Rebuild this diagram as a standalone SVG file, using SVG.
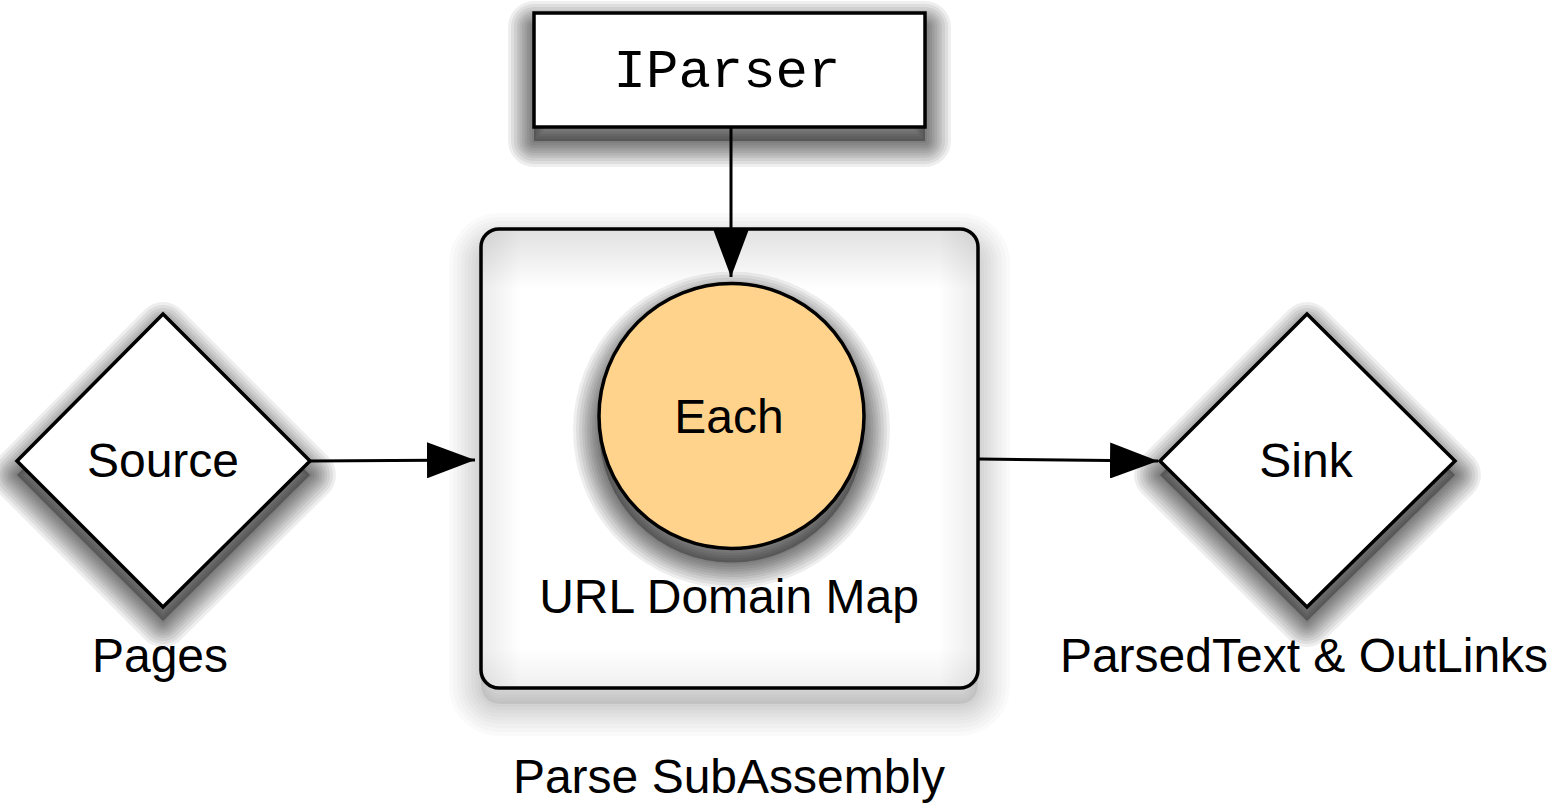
<svg xmlns="http://www.w3.org/2000/svg" xmlns:xlink="http://www.w3.org/1999/xlink" width="1563" height="806" viewBox="0 0 1563 806">
<style>
.t{font-family:"Liberation Sans",Arial,sans-serif;font-size:48px;fill:#000;text-anchor:middle}
.m{font-family:"Liberation Mono","DejaVu Sans Mono",monospace;font-size:54px;fill:#000;text-anchor:middle}
.shape{stroke:#000;stroke-width:3.5;fill:#fff}
.conn{stroke:#000;stroke-width:3;fill:none}
.shd{fill:#000;fill-opacity:0.03;stroke:#000;stroke-opacity:0.065;stroke-linejoin:round}
.shc{fill:#000;fill-opacity:0.008;stroke:#000;stroke-opacity:0.018;stroke-linejoin:round}
</style>
<defs>
<rect id="r-ip" x="534" y="13" width="391" height="114"/>
<polygon id="p-src" points="163,314 310,461 163,607 17,461"/>
<polygon id="p-snk" points="1307,314 1455,461 1307,607 1160,461"/>
<circle id="c-each" cx="731.5" cy="416" r="132.5"/>
<rect id="r-ct" x="481" y="229" width="497" height="459" rx="18"/>
<g id="s-ip"><use xlink:href="#r-ip" stroke-width="52"/><use xlink:href="#r-ip" stroke-width="46"/><use xlink:href="#r-ip" stroke-width="40"/><use xlink:href="#r-ip" stroke-width="34"/><use xlink:href="#r-ip" stroke-width="29"/><use xlink:href="#r-ip" stroke-width="24"/><use xlink:href="#r-ip" stroke-width="19"/><use xlink:href="#r-ip" stroke-width="14"/><use xlink:href="#r-ip" stroke-width="9"/><use xlink:href="#r-ip" stroke-width="4"/></g>
<g id="s-each"><use xlink:href="#c-each" stroke-width="52"/><use xlink:href="#c-each" stroke-width="46"/><use xlink:href="#c-each" stroke-width="40"/><use xlink:href="#c-each" stroke-width="34"/><use xlink:href="#c-each" stroke-width="29"/><use xlink:href="#c-each" stroke-width="24"/><use xlink:href="#c-each" stroke-width="19"/><use xlink:href="#c-each" stroke-width="14"/><use xlink:href="#c-each" stroke-width="9"/><use xlink:href="#c-each" stroke-width="4"/></g>
<g id="s-src"><use xlink:href="#p-src" stroke-width="52"/><use xlink:href="#p-src" stroke-width="46"/><use xlink:href="#p-src" stroke-width="40"/><use xlink:href="#p-src" stroke-width="34"/><use xlink:href="#p-src" stroke-width="29"/><use xlink:href="#p-src" stroke-width="24"/><use xlink:href="#p-src" stroke-width="19"/><use xlink:href="#p-src" stroke-width="14"/><use xlink:href="#p-src" stroke-width="9"/><use xlink:href="#p-src" stroke-width="4"/></g>
<g id="s-snk"><use xlink:href="#p-snk" stroke-width="52"/><use xlink:href="#p-snk" stroke-width="46"/><use xlink:href="#p-snk" stroke-width="40"/><use xlink:href="#p-snk" stroke-width="34"/><use xlink:href="#p-snk" stroke-width="29"/><use xlink:href="#p-snk" stroke-width="24"/><use xlink:href="#p-snk" stroke-width="19"/><use xlink:href="#p-snk" stroke-width="14"/><use xlink:href="#p-snk" stroke-width="9"/><use xlink:href="#p-snk" stroke-width="4"/></g>
<linearGradient id="gt" x1="0" y1="0" x2="0" y2="1"><stop offset="0" stop-color="#000" stop-opacity="0.12"/><stop offset="1" stop-color="#000" stop-opacity="0"/></linearGradient>
<linearGradient id="gb" x1="0" y1="1" x2="0" y2="0"><stop offset="0" stop-color="#000" stop-opacity="0.06"/><stop offset="1" stop-color="#000" stop-opacity="0"/></linearGradient>
<linearGradient id="gl" x1="0" y1="0" x2="1" y2="0"><stop offset="0" stop-color="#000" stop-opacity="0.08"/><stop offset="1" stop-color="#000" stop-opacity="0"/></linearGradient>
<linearGradient id="gr" x1="1" y1="0" x2="0" y2="0"><stop offset="0" stop-color="#000" stop-opacity="0.08"/><stop offset="1" stop-color="#000" stop-opacity="0"/></linearGradient>
<clipPath id="cc"><rect x="481" y="229" width="497" height="459" rx="18"/></clipPath>
<marker id="ah" markerUnits="userSpaceOnUse" viewBox="0 0 48 36" refX="48" refY="18" markerWidth="48" markerHeight="36" orient="auto">
<path d="M0,0 L48,18 L0,36 Z" fill="#000"/>
</marker>
</defs>
<rect width="1563" height="806" fill="#fff"/>

<g id="container">
<g class="shc" transform="translate(0,16)">
<use xlink:href="#r-ct" stroke-width="64"/><use xlink:href="#r-ct" stroke-width="56"/><use xlink:href="#r-ct" stroke-width="48"/><use xlink:href="#r-ct" stroke-width="40"/><use xlink:href="#r-ct" stroke-width="33"/><use xlink:href="#r-ct" stroke-width="26"/><use xlink:href="#r-ct" stroke-width="19"/><use xlink:href="#r-ct" stroke-width="12"/><use xlink:href="#r-ct" stroke-width="6"/>
</g>
<rect x="481" y="229" width="497" height="459" rx="18" fill="#fff"/>
<g clip-path="url(#cc)">
<rect x="481" y="229" width="497" height="60" fill="url(#gt)"/>
<rect x="481" y="648" width="497" height="40" fill="url(#gb)"/>
<rect x="481" y="229" width="40" height="459" fill="url(#gl)"/>
<rect x="938" y="229" width="40" height="459" fill="url(#gr)"/>
</g>
<rect x="481" y="229" width="497" height="459" rx="18" fill="none" stroke="#000" stroke-width="3.5"/>
<text class="t" x="729" y="613">URL Domain Map</text>
<text class="t" x="729" y="793">Parse SubAssembly</text>
</g>

<g id="iparser">
<use class="shd" xlink:href="#s-ip" transform="translate(0,14)"/>
<rect class="shape" x="534" y="13" width="391" height="114"/>
<text class="m" x="727" y="87">IParser</text>
</g>

<g id="each">
<use class="shd" xlink:href="#s-each" transform="translate(0,14)"/>
<circle cx="731.5" cy="416" r="132.5" fill="#FFD38C" stroke="#000" stroke-width="3.5"/>
<text class="t" x="729" y="433">Each</text>
</g>

<g id="source">
<use class="shd" xlink:href="#s-src" transform="translate(0,14)"/>
<polygon class="shape" points="163,314 310,461 163,607 17,461"/>
<text class="t" x="163" y="477">Source</text>
<text class="t" x="160" y="672">Pages</text>
</g>

<g id="sink">
<use class="shd" xlink:href="#s-snk" transform="translate(0,14)"/>
<polygon class="shape" points="1307,314 1455,461 1307,607 1160,461"/>
<text class="t" x="1306" y="477">Sink</text>
<text class="t" x="1304" y="672">ParsedText &amp; OutLinks</text>
</g>

<g id="connectors">
<line class="conn" x1="731" y1="127" x2="731" y2="277" marker-end="url(#ah)"/>
<line class="conn" x1="310" y1="461" x2="475" y2="460" marker-end="url(#ah)"/>
<line class="conn" x1="979" y1="459" x2="1158" y2="461" marker-end="url(#ah)"/>
</g>
</svg>
